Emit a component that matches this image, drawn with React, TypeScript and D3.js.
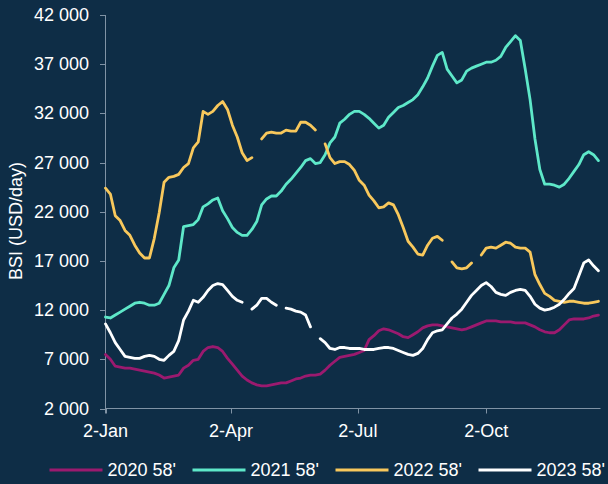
import * as d3 from "d3";

// sample every 3.5 days starting 2 Jan
const sampleDays = d3.range(0, 356, 3.5);

const seriesNames = ["2020 58'", "2021 58'", "2022 58'", "2023 58'"];
const seriesColors = ["#9b1a6f", "#5ee8c9", "#f8c85c", "#ffffff"];

const bsi2020 = [
  7500, 7000, 6300, 6200, 6100, 6100, 6000, 5900, 5800, 5700,
  5600, 5400, 5100, 5200, 5300, 5400, 6100, 6400, 6900, 7000,
  7800, 8200, 8300, 8200, 7800, 7100, 6500, 5900, 5300, 4900,
  4600, 4400, 4300, 4300, 4400, 4500, 4600, 4600, 4800, 5000,
  5100, 5300, 5400, 5400, 5500, 5900, 6400, 6800, 7200, 7300,
  7400, 7500, 7700, 7900, 9000, 9400, 9900, 10100, 10000, 9800,
  9600, 9300, 9200, 9500, 9800, 10200, 10400, 10500, 10500, 10400,
  10300, 10200, 10100, 10000, 10100, 10300, 10500, 10700, 10900, 10900,
  10900, 10800, 10800, 10800, 10700, 10700, 10700, 10500, 10300, 10000,
  9800, 9700, 9700, 10000, 10500, 11000, 11100, 11100, 11100, 11200,
  11400, 11500,
];

const bsi2021 = [
  11300, 11200, 11500, 11800, 12100, 12400, 12700, 12800, 12700, 12500,
  12500, 12700, 13600, 14500, 16300, 17100, 20500, 20600, 20700, 21200,
  22500, 22800, 23200, 23400, 22100, 21300, 20400, 19900, 19600, 19600,
  20200, 21000, 22700, 23300, 23600, 23600, 24100, 24800, 25300, 25900,
  26500, 27200, 27400, 26900, 27000, 27800, 29000, 29600, 31000, 31400,
  31900, 32200, 32200, 31900, 31500, 31000, 30500, 30800, 31600, 32100,
  32600, 32800, 33100, 33400, 33900, 34700, 35600, 36800, 37900, 38200,
  36500, 35800, 35100, 35400, 36300, 36600, 36800, 37000, 37200, 37200,
  37400, 37800, 38700, 39300, 39900, 39400, 36500, 33400, 29400, 26300,
  24800, 24800, 24700, 24500, 24800, 25400, 26100, 26800, 27800, 28100,
  27800, 27200,
];

const bsi2022 = [
  24400, 23800, 21600, 21100, 20100, 19600, 18600, 17800, 17300, 17300,
  19300, 21900, 25000, 25500, 25600, 25800, 26500, 26900, 28500, 29100,
  32200, 31900, 32200, 32800, 33200, 32400, 30800, 29600, 28000, 27200,
  27500, null, 29400, 30000, 30100, 30000, 30000, 30300, 30200, 30200,
  31100, 31100, 30800, 30300, null, 28900, 27500, 26900, 27100, 27100,
  26800, 26200, 25200, 24700, 23700, 23100, 22400, 22500, 22900, 22700,
  21700, 20400, 19000, 18400, 17700, 17600, 18600, 19300, 19500, 19100,
  null, 16900, 16300, 16200, 16300, 16800, null, 17600, 18300, 18400,
  18300, 18600, 18900, 18800, 18400, 18300, 18300, 17900, 15600, 14600,
  13700, 13400, 13000, 12900, 12800, 12900, 12900, 12800, 12700, 12700,
  12800, 12900,
];

const bsi2023 = [
  10600, 9700, 8700, 8000, 7300, 7200, 7100, 7100, 7300, 7400,
  7300, 7000, 6900, 7400, 7800, 8900, 11000, 11900, 13000, 12800,
  13300, 14000, 14500, 14700, 14600, 14000, 13400, 13000, 12800, null,
  12100, 12500, 13200, 13200, 12800, 12500, null, 12200, 12100, 11900,
  11800, 11500, 10300, null, 9100, 8700, 8100, 8000, 8200, 8200,
  8100, 8100, 8100, 8000, 8000, 8000, 8100, 8200, 8200, 8100,
  7900, 7700, 7500, 7400, 7600, 8100, 9000, 9700, 9900, 10000,
  10600, 11200, 11600, 12100, 12800, 13500, 14000, 14500, 14800, 14400,
  13800, 13600, 13500, 13800, 14000, 14100, 14000, 13400, 12600, 12200,
  12000, 12100, 12300, 12600, 13100, 13700, 14200, 15500, 16800, 17100,
  16500, 16000,
];

const seriesValues = [bsi2020, bsi2021, bsi2022, bsi2023];

const xTickDates = [
  new Date(Date.UTC(2023, 0, 2)),
  new Date(Date.UTC(2023, 3, 2)),
  new Date(Date.UTC(2023, 6, 2)),
  new Date(Date.UTC(2023, 9, 2)),
];
const xTickLabels = ["2-Jan", "2-Apr", "2-Jul", "2-Oct"];
const yTicks = [2000, 7000, 12000, 17000, 22000, 27000, 32000, 37000, 42000];
const yLabel = "BSI (USD/day)";

const W = 608;
const H = 484;
const BG = "#0e2d46";
const AXIS = "#8093a5";
const FONT = "'Liberation Sans', Arial, sans-serif";

const fmt = d3.formatLocale({ decimal: ".", thousands: " ", grouping: [3], currency: ["", ""] }).format(",");

export default function App() {
  const start = new Date(Date.UTC(2023, 0, 2));
  const x = d3
    .scaleUtc()
    .domain([start, d3.utcDay.offset(start, 355)])
    .range([105.5, 600.5]);
  const y = d3.scaleLinear().domain([2000, 42000]).range([408.5, 15]);

  const dates = sampleDays.map((d) => new Date(start.getTime() + d * 864e5));

  const line = d3
    .line<number | null>()
    .defined((v) => v != null)
    .x((_, i) => x(dates[i]))
    .y((v) => y(v as number));

  const y0 = y(2000);

  return (
    <svg
      width={W}
      height={H}
      style={{ position: "absolute", left: 0, top: 0, display: "block" }}
      fontFamily={FONT}
    >
      <rect width={W} height={H} fill={BG} />

      {/* y axis */}
      <line x1={105.5} x2={105.5} y1={y(42000)} y2={y0 + 5} stroke={AXIS} />
      {yTicks.map((t) => (
        <g key={t}>
          <line x1={100} x2={105.5} y1={Math.round(y(t)) + 0.5} y2={Math.round(y(t)) + 0.5} stroke={AXIS} />
          <text x={89} y={y(t)} textAnchor="end" dominantBaseline="central" fill="#fff" fontSize={18}>
            {fmt(t)}
          </text>
        </g>
      ))}
      <text
        transform={`translate(22,221) rotate(-90)`}
        textAnchor="middle"
        fill="#fff"
        fontSize={18}
      >
        {yLabel}
      </text>

      {/* x axis */}
      <line x1={105.5} x2={600.5} y1={y0} y2={y0} stroke={AXIS} />
      {xTickDates.map((d, i) => (
        <g key={i}>
          <line x1={Math.round(x(d)) + 0.5} x2={Math.round(x(d)) + 0.5} y1={y0} y2={y0 + 5} stroke={AXIS} />
          <text x={x(d)} y={431} textAnchor="middle" dominantBaseline="central" fill="#fff" fontSize={18}>
            {xTickLabels[i]}
          </text>
        </g>
      ))}

      {/* series */}
      {seriesValues.map((vals, i) => (
        <path
          key={seriesNames[i]}
          d={line(vals) || ""}
          fill="none"
          stroke={seriesColors[i]}
          strokeWidth={2.8}
          strokeLinejoin="round"
          strokeLinecap="round"
        />
      ))}

      {/* legend */}
      {seriesNames.map((name, i) => {
        const lx = 49.5 + 143 * i;
        return (
          <g key={name}>
            <line x1={lx} x2={lx + 53} y1={470} y2={470} stroke={seriesColors[i]} strokeWidth={3} />
            <text x={lx + 58} y={470} dominantBaseline="central" fill="#fff" fontSize={18}>
              {name}
            </text>
          </g>
        );
      })}
    </svg>
  );
}
